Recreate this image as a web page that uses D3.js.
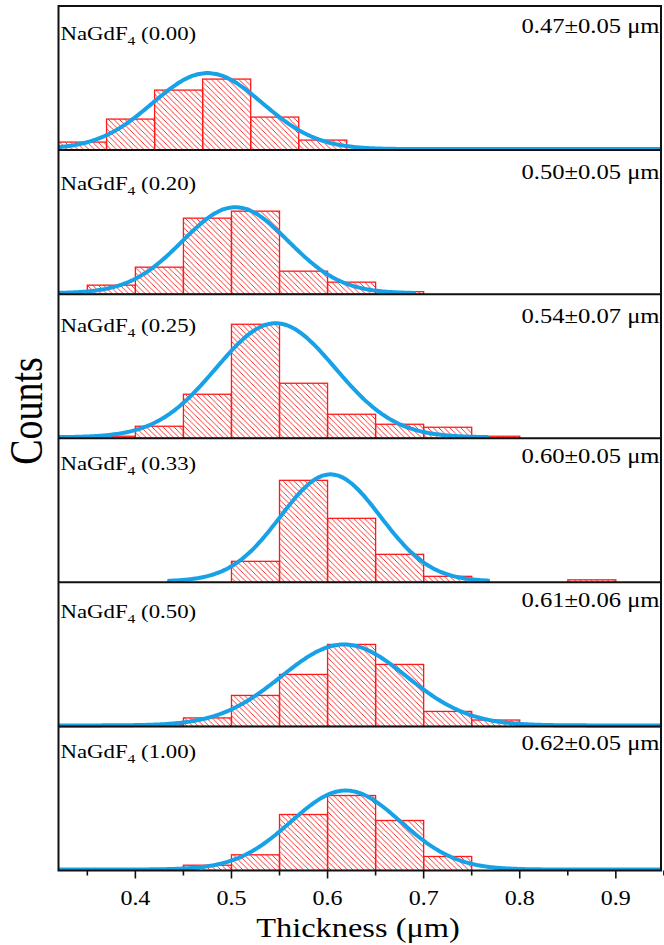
<!DOCTYPE html>
<html>
<head>
<meta charset="utf-8">
<script src="https://cdn.jsdelivr.net/npm/d3@7"></script>
<style>
  body { margin: 0; background: #fff; }
  svg { display: block; }
  text { font-family: "Liberation Serif", "Times New Roman", serif; fill: #000; }
</style>
</head>
<body>
<div id="chart"></div>
<script>
// samples (Gd fraction) and the fitted size label of each panel
const samples = ['0.00', '0.20', '0.25', '0.33', '0.50', '1.00'];
const sizeLabels = ['0.47±0.05 μm', '0.50±0.05 μm', '0.54±0.07 μm', '0.60±0.05 μm', '0.61±0.06 μm', '0.62±0.05 μm'];

// histogram: first bin edge of each panel, bin width, counts
const binStart = [0.32, 0.35, 0.35, 0.50, 0.40, 0.45];
const binWidth = 0.05;
const counts = [
  [7, 30, 59, 70, 32, 9],
  [8, 26, 75, 82, 22, 11, 1.5],
  [1, 11, 43, 113, 54, 23, 13, 10, 1],
  [20, 101, 63, 27, 5, 0, 0, 1.5],
  [0.7, 7.5, 30, 51, 81, 61, 14, 5.4],
  [4.3, 14.7, 55, 74, 49, 13]
];

// gaussian fit of each panel and the x span it was drawn over
const fitMean = [0.475, 0.504, 0.546, 0.603, 0.617, 0.619];
const fitSigma = [0.057, 0.055, 0.062, 0.052, 0.065, 0.057];
const fitAmp = [76, 86, 114, 107, 81, 79];
const fitFrom = [0.32, 0.32, 0.32, 0.435, 0.32, 0.32];
const fitTo = [0.947, 0.69, 0.767, 0.768, 0.947, 0.947];

const xMajor = [0.4, 0.5, 0.6, 0.7, 0.8, 0.9];
const xMinor = [0.35, 0.45, 0.55, 0.65, 0.75, 0.85, 0.95];

const width = 664, height = 945,
      mLeft = 58.5, mRight = 661, mTop = 6, mBottom = 870.5,
      stretch = 1.2,
      red = '#ff1a1a', blue = '#17a2e8';

// label baselines below each panel top (they wander a bit in the original)
const nameDy = [34, 40, 38, 32, 36, 32];
const sizeDy = [27, 29, 29, 25, 25, 24];

const svg = d3.select('#chart').append('svg')
  .attr('width', width)
  .attr('height', height);

const defs = svg.append('defs');

// hatch for the bars
defs.append('pattern')
  .attr('id', 'hatch')
  .attr('patternUnits', 'userSpaceOnUse')
  .attr('width', 5.5).attr('height', 5.5)
  .append('path')
    .attr('d', 'M0,0L5.5,5.5M-1,4.5L1,6.5M4.5,-1L6.5,1')
    .style('stroke', red)
    .style('stroke-width', 0.9);

defs.append('clipPath').attr('id', 'plot')
  .append('rect')
    .attr('x', mLeft).attr('y', mTop)
    .attr('width', mRight - mLeft).attr('height', mBottom - mTop);

const x = d3.scaleLinear().domain([0.32, 0.947]).range([mLeft, mRight]);

const panel = d3.scaleBand()
  .domain(samples)
  .range([mTop, mBottom]);

// stretched text helper (the source figure is widened horizontally)
function label(g, tx, ty, size, anchor) {
  return g.append('g')
    .attr('transform', `translate(${tx},${ty}) scale(${stretch},1)`)
    .append('text')
      .attr('text-anchor', anchor)
      .style('font-size', size + 'px');
}

samples.forEach((s, i) => {
  const p0 = panel(s), p1 = p0 + panel.bandwidth();
  const y = d3.scaleLinear().domain([0, 144]).range([p1 - 1, p1 - 145]);

  const g = svg.append('g').attr('clip-path', 'url(#plot)');

  const bins = counts[i].map((c, k) => ({
    x0: binStart[i] + k * binWidth,
    x1: binStart[i] + (k + 1) * binWidth,
    c: c
  })).filter(d => d.c > 0);

  g.selectAll('.bar')
    .data(bins)
    .enter().append('rect')
      .attr('class', 'bar')
      .attr('x', d => x(d.x0))
      .attr('width', d => x(d.x1) - x(d.x0))
      .attr('y', d => y(d.c))
      .attr('height', d => y(0) - y(d.c) + 1)
      .style('fill', 'url(#hatch)')
      .style('stroke', red)
      .style('stroke-width', 1.3);

  const xs = d3.range(fitFrom[i], fitTo[i] + 1e-9, 0.002);
  const fit = d => fitAmp[i] * Math.exp(-Math.pow(d - fitMean[i], 2) / (2 * fitSigma[i] * fitSigma[i]));

  g.append('path')
    .datum(xs)
    .attr('d', d3.line().x(d => x(d)).y(d => y(fit(d))).curve(d3.curveBasis))
    .style('fill', 'none')
    .style('stroke', blue)
    .style('stroke-width', 4)
    .style('stroke-linecap', 'round');

  // panel labels
  const t = label(svg, mLeft + 2, p0 + nameDy[i], 19, 'start');
  t.append('tspan').text('NaGdF');
  t.append('tspan').attr('dy', 5).style('font-size', '13px').text('4');
  t.append('tspan').attr('dy', -5).text(' (' + s + ')');

  label(svg, mRight - 1.5, p0 + sizeDy[i], 20.5, 'end').text(sizeLabels[i]);

  // separator
  if (i > 0) {
    svg.append('line')
      .attr('x1', mLeft).attr('x2', mRight)
      .attr('y1', p0).attr('y2', p0)
      .style('stroke', '#111')
      .style('stroke-width', 2);
  }
});

// frame
svg.append('rect')
  .attr('x', mLeft).attr('y', mTop)
  .attr('width', mRight - mLeft).attr('height', mBottom - mTop)
  .style('fill', 'none')
  .style('stroke', '#111')
  .style('stroke-width', 2);

// bottom axis ticks
const axis = svg.append('g');
axis.selectAll('.major')
  .data(xMajor)
  .enter().append('line')
    .attr('x1', d => x(d)).attr('x2', d => x(d))
    .attr('y1', mBottom).attr('y2', mBottom + 8)
    .style('stroke', '#111').style('stroke-width', 1.6);
axis.selectAll('.minor')
  .data(xMinor)
  .enter().append('line')
    .attr('x1', d => x(d)).attr('x2', d => x(d))
    .attr('y1', mBottom).attr('y2', mBottom + 5)
    .style('stroke', '#111').style('stroke-width', 1.6);

xMajor.forEach(v => {
  label(svg, x(v), 905, 20, 'middle').text(d3.format('.1f')(v));
});

label(svg, 358, 937, 27, 'middle').text('Thickness (μm)');

svg.append('g')
  .attr('transform', 'translate(42,411) rotate(-90)')
  .append('g')
  .attr('transform', `scale(1,${stretch})`)
  .append('text')
    .attr('text-anchor', 'middle')
    .style('font-size', '38px')
    .text('Counts');
</script>
</body>
</html>
